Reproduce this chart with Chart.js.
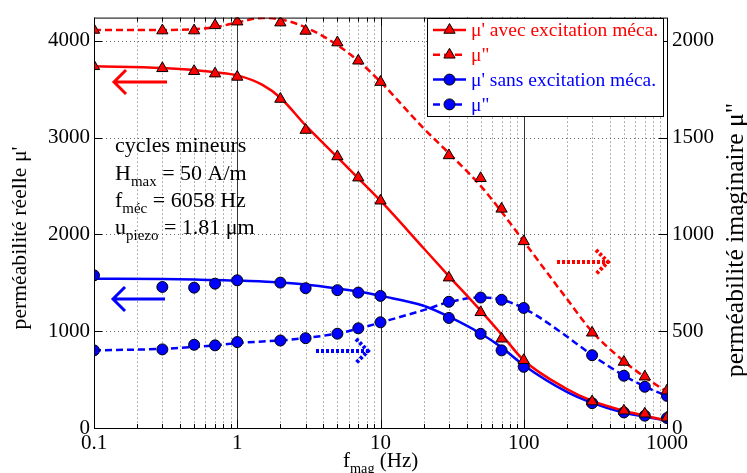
<!DOCTYPE html>
<html>
<head>
<meta charset="utf-8">
<script src="https://cdn.jsdelivr.net/npm/chart.js@4.4.1/dist/chart.umd.min.js"></script>
<style>
  html, body { margin: 0; background: #fff; }
  #wrap { width: 747px; height: 473px; }
</style>
</head>
<body>
<div id="wrap"><canvas id="chart"></canvas></div>
<script>
// measured points
const freqs = [0.1, 0.3, 0.5, 0.7, 1, 2, 3, 5, 7, 10, 30, 50, 70, 100, 300, 500, 700, 1000];
const reelAvec = [3737, 3716, 3686, 3661, 3627, 3399, 3078, 2805, 2586, 2348, 1553, 1195, 922, 700, 273, 178, 147, 106];
const imagAvec = [2056, 2053, 2053, 2080, 2099, 2094, 2051, 1991, 1897, 1787, 1408, 1290, 1132, 964, 492, 341, 265, 193];
const reelSans = [1577, 1457, 1450, 1491, 1526, 1502, 1444, 1424, 1399, 1365, 1137, 973, 802, 632, 257, 161, 127, 103];
const imagSans = [401, 406, 430, 427, 444, 452, 464, 487, 515, 546, 652, 674, 662, 620, 376, 270, 213, 166];

// fitted curves
const fitFreqs = [0.1, 0.3, 0.5, 0.7, 1, 1.5, 2, 3, 5, 7, 10, 20, 30, 50, 70, 100, 200, 300, 500, 700, 1000];
const fitReelAvec = [3737, 3719, 3699, 3675, 3643, 3545, 3412, 3126, 2798, 2580, 2348, 1857, 1570, 1212, 966, 700, 403, 280, 178, 127, 76];
const fitImagAvec = [2056, 2056, 2060, 2070, 2095, 2118, 2111, 2070, 1978, 1896, 1788, 1548, 1420, 1251, 1117, 964, 667, 498, 345, 263, 186];
const fitReelSans = [1542, 1539, 1534, 1528, 1522, 1514, 1504, 1483, 1442, 1410, 1365, 1263, 1150, 976, 833, 649, 373, 260, 158, 117, 76];
const fitImagSans = [401, 409, 419, 427, 439, 447, 452, 465, 488, 513, 545, 609, 650, 675, 662, 619, 473, 376, 271, 214, 166];

const xTicks = [0.1, 1, 10, 100, 1000];
const yTicks = [0, 1000, 2000, 3000, 4000];
const y2Ticks = [0, 500, 1000, 1500, 2000];

const RED = "#ff0000";
const BLUE = "#0000ff";
const SERIF = "'Liberation Serif', 'DejaVu Serif', serif";

const pts = (xs, ys) => xs.map((x, i) => ({ x, y: ys[i] }));

function markers(data, axis, color, style, r) {
  return {
    data, yAxisID: axis, showLine: false,
    pointStyle: style, pointRadius: r, pointHoverRadius: r,
    pointBackgroundColor: color, pointBorderColor: "#000", pointBorderWidth: 1
  };
}
function fit(data, axis, color, dash) {
  return {
    data, yAxisID: axis, borderColor: color, borderWidth: 2.5,
    borderDash: dash, pointRadius: 0, cubicInterpolationMode: "monotone", fill: false
  };
}

// text with a subscript part
function subText(ctx, x, y, parts, size) {
  ctx.textBaseline = "alphabetic";
  ctx.textAlign = "left";
  parts.forEach(([txt, sub]) => {
    const s = sub ? size * 0.68 : size;
    ctx.font = s + "px " + SERIF;
    ctx.fillText(txt, x, y + (sub ? size * 0.28 : 0));
    x += ctx.measureText(txt).width;
  });
}

// vertical title, stretched to the length seen in the figure
function vTitle(ctx, txt, cx, cy, len) {
  ctx.save();
  ctx.font = "20px " + SERIF;
  const size = 20 * len / ctx.measureText(txt).width;
  ctx.font = size.toFixed(1) + "px " + SERIF;
  ctx.translate(cx, cy);
  ctx.rotate(-Math.PI / 2);
  ctx.textAlign = "center";
  ctx.textBaseline = "middle";
  ctx.fillStyle = "#000";
  ctx.fillText(txt, 0, 0);
  ctx.restore();
}

function arrow(ctx, x0, x1, y, dir, color, width, dash) {
  ctx.save();
  ctx.strokeStyle = color;
  ctx.lineWidth = width;
  ctx.setLineDash(dash);
  ctx.beginPath();
  ctx.moveTo(x0, y); ctx.lineTo(x1, y);
  const tip = dir < 0 ? x0 : x1;
  ctx.moveTo(tip - dir * 12, y - 12); ctx.lineTo(tip, y); ctx.lineTo(tip - dir * 12, y + 12);
  ctx.stroke();
  ctx.restore();
}

const decor = {
  id: "decor",
  beforeDatasetsDraw(chart) {
    const { ctx, chartArea: a, scales } = chart;
    const sx = scales.x, sy = scales.y, sy2 = scales.y2;
    ctx.save();
    ctx.lineWidth = 1;
    // minor x grid + y grid, dotted
    ctx.strokeStyle = "#666";
    ctx.setLineDash([1, 3]);
    ctx.beginPath();
    [0.1, 1, 10, 100].forEach(d => {
      for (let k = 2; k <= 9; k++) {
        const px = Math.round(sx.getPixelForValue(k * d)) + 0.5;
        ctx.moveTo(px, a.top); ctx.lineTo(px, a.bottom);
      }
    });
    yTicks.slice(1).forEach(v => {
      const py = Math.round(sy.getPixelForValue(v)) + 0.5;
      ctx.moveTo(a.left, py); ctx.lineTo(a.right, py);
    });
    ctx.stroke();
    // decade lines
    ctx.setLineDash([]);
    ctx.strokeStyle = "#333";
    ctx.beginPath();
    [1, 10, 100].forEach(v => {
      const px = Math.round(sx.getPixelForValue(v)) + 0.5;
      ctx.moveTo(px, a.top); ctx.lineTo(px, a.bottom);
    });
    ctx.stroke();
    // inward ticks
    ctx.strokeStyle = "#000";
    ctx.beginPath();
    [0.1, 1, 10, 100].forEach(d => {
      for (let k = 1; k <= 9; k++) {
        const px = Math.round(sx.getPixelForValue(k * d)) + 0.5;
        const len = k === 1 ? 8 : 4;
        ctx.moveTo(px, a.bottom); ctx.lineTo(px, a.bottom - len);
        ctx.moveTo(px, a.top); ctx.lineTo(px, a.top + len);
      }
    });
    yTicks.forEach(v => {
      const py = Math.round(sy.getPixelForValue(v)) + 0.5;
      ctx.moveTo(a.left, py); ctx.lineTo(a.left + 8, py);
    });
    y2Ticks.forEach(v => {
      const py = Math.round(sy2.getPixelForValue(v)) + 0.5;
      ctx.moveTo(a.right, py); ctx.lineTo(a.right - 8, py);
    });
    ctx.stroke();
    ctx.restore();
  },
  afterDatasetsDraw(chart) {
    const { ctx, chartArea: a } = chart;
    ctx.save();
    // frame
    ctx.strokeStyle = "#000";
    ctx.lineWidth = 1;
    ctx.strokeRect(a.left + 0.5, a.top + 0.5, a.right - a.left, a.bottom - a.top);

    // arrows pointing to the axis of each pair of curves
    arrow(ctx, 114, 167, 82, -1, RED, 3, []);
    arrow(ctx, 113, 165, 299, -1, BLUE, 3, []);
    arrow(ctx, 557, 608, 262, 1, RED, 4, [3, 2]);
    arrow(ctx, 316, 368, 351, 1, BLUE, 4, [3, 2]);

    // annotation
    ctx.fillStyle = "#000";
    subText(ctx, 115, 152, [["cycles mineurs"]], 22);
    subText(ctx, 115, 180, [["H"], ["max", 1], [" = 50 A/m"]], 22);
    subText(ctx, 115, 207, [["f"], ["méc", 1], [" = 6058 Hz"]], 22);
    subText(ctx, 115, 234, [["u"], ["piezo", 1], [" = 1.81 μm"]], 22);

    // axis titles
    subText(ctx, 343, 467, [["f"], ["mag", 1], [" (Hz)"]], 21);
    vTitle(ctx, "perméabilité réelle μ'", 20, 238, 183);
    vTitle(ctx, "perméabilité imaginaire μ\"", 736, 240, 274);

    // legend
    const lx = 427, ly = 18, lw = 236, lh = 98;
    ctx.fillStyle = "#fff";
    ctx.fillRect(lx, ly, lw, lh);
    ctx.strokeStyle = "#000";
    ctx.lineWidth = 1;
    ctx.strokeRect(lx + 0.5, ly + 0.5, lw, lh);
    const rows = [
      ["μ' avec excitation méca.", RED, [], "triangle"],
      ["μ\"", RED, [7, 4], "triangle"],
      ["μ' sans excitation méca.", BLUE, [], "circle"],
      ["μ\"", BLUE, [7, 4], "circle"]
    ];
    rows.forEach(([txt, col, dash, style], i) => {
      const y = 30 + i * 24.8;
      ctx.strokeStyle = col;
      ctx.lineWidth = 2.5;
      ctx.setLineDash(dash);
      ctx.beginPath();
      ctx.moveTo(433, y); ctx.lineTo(466, y);
      ctx.stroke();
      ctx.setLineDash([]);
      ctx.fillStyle = col;
      ctx.strokeStyle = "#000";
      ctx.lineWidth = 1;
      Chart.helpers.drawPoint(ctx, { pointStyle: style, radius: style === "circle" ? 5.5 : 6.5, rotation: 0, borderWidth: 1 }, 449.5, y);
      ctx.fillStyle = col;
      ctx.font = "19.5px " + SERIF;
      ctx.textBaseline = "middle";
      ctx.textAlign = "left";
      ctx.fillText(txt, 471, y + 1);
    });
    ctx.restore();
  }
};

new Chart(document.getElementById("chart").getContext("2d"), {
  type: "line",
  data: {
    datasets: [
      markers(pts(freqs, reelAvec), "y", RED, "triangle", 6.5),
      markers(pts(freqs, imagAvec), "y2", RED, "triangle", 6.5),
      markers(pts(freqs, reelSans), "y", BLUE, "circle", 5.5),
      markers(pts(freqs, imagSans), "y2", BLUE, "circle", 5.5),
      fit(pts(fitFreqs, fitReelAvec), "y", RED, []),
      fit(pts(fitFreqs, fitImagAvec), "y2", RED, [7, 4]),
      fit(pts(fitFreqs, fitReelSans), "y", BLUE, []),
      fit(pts(fitFreqs, fitImagSans), "y2", BLUE, [7, 4])
    ]
  },
  options: {
    responsive: true,
    maintainAspectRatio: false,
    animation: false,
    layout: { padding: { top: 14, left: 0, right: 0, bottom: 0 } },
    plugins: { legend: { display: false }, tooltip: { enabled: false } },
    scales: {
      x: {
        type: "logarithmic", min: 0.1, max: 1000,
        afterBuildTicks: s => { s.ticks = xTicks.map(v => ({ value: v })); },
        afterFit: s => { s.height = 45; },
        grid: { display: false, drawTicks: false },
        border: { display: false },
        ticks: {
          color: "#000", padding: 3, maxRotation: 0, autoSkip: false,
          font: { family: SERIF, size: 21 },
          callback: v => String(v)
        }
      },
      y: {
        position: "left", min: 0, max: 4240,
        afterBuildTicks: s => { s.ticks = yTicks.map(v => ({ value: v })); },
        afterFit: s => { s.width = 94; },
        grid: { display: false, drawTicks: false },
        border: { display: false },
        ticks: { color: "#000", padding: 4, font: { family: SERIF, size: 21 }, callback: v => String(v) }
      },
      y2: {
        position: "right", min: 0, max: 2120,
        afterBuildTicks: s => { s.ticks = y2Ticks.map(v => ({ value: v })); },
        afterFit: s => { s.width = 80; },
        grid: { display: false, drawTicks: false },
        border: { display: false },
        ticks: { color: "#000", padding: 5, font: { family: SERIF, size: 21 }, callback: v => String(v) }
      }
    }
  },
  plugins: [decor]
});
</script>
</body>
</html>
